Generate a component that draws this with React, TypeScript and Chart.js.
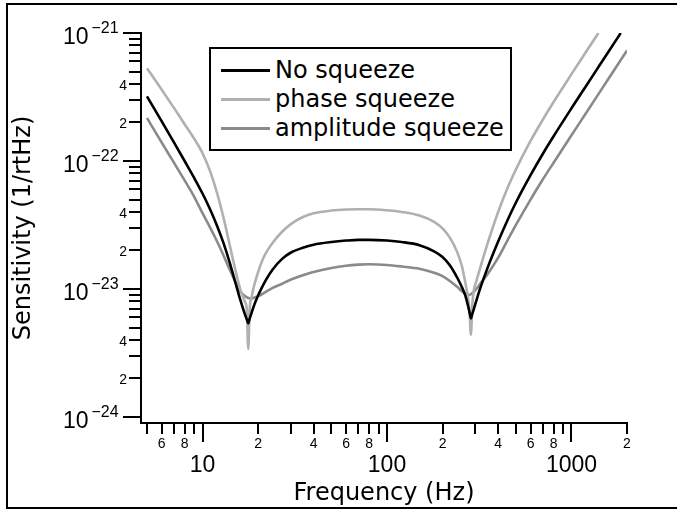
import React, { useEffect, useRef } from 'react';
import { Chart, registerables } from 'chart.js';

Chart.register(...registerables);

// ---- data ----
const frequencies = [
  5, 6, 7, 8, 9, 10, 11, 12, 13, 14, 15, 16, 17, 17.4, 17.7, 18, 18.5, 19,
  20, 21, 22, 24, 27, 30, 35, 40, 50, 60, 70, 80, 100, 120, 150, 180,
  200, 220, 240, 255, 265, 275, 280, 285, 290, 295, 305, 320, 350, 400, 450, 500,
  600, 700, 800, 1000, 1200, 1400, 1600, 1850, 2000,
];

const noSqueeze = [
  3.2e-22, 2.05e-22, 1.4e-22, 1.0e-22, 7.4e-23, 5.57e-23, 4.18e-23, 3.11e-23, 2.28e-23, 1.63e-23, 1.15e-23, 8.3e-24, 6.3e-24, 5.75e-24, 5.4e-24, 5.85e-24, 6.6e-24, 7.4e-24,
  8.9e-24, 1.03e-23, 1.17e-23, 1.42e-23, 1.72e-23, 1.92e-23, 2.1e-23, 2.22e-23, 2.33e-23, 2.39e-23, 2.42e-23, 2.42e-23, 2.39e-23, 2.33e-23, 2.2e-23, 1.97e-23,
  1.78e-23, 1.52e-23, 1.23e-23, 1.03e-23, 9.0e-24, 7.4e-24, 6.6e-24, 5.9e-24, 6.4e-24, 6.9e-24, 8.1e-24, 1.01e-23, 1.45e-23, 2.34e-23, 3.45e-23, 4.74e-23,
  7.75e-23, 1.14e-22, 1.56e-22, 2.58e-22, 3.86e-22, 5.42e-22, 7.27e-22, 1.0e-21, null,
];

const phaseSqueeze = [
  5.3e-22, 3.62e-22, 2.6e-22, 1.94e-22, 1.5e-22, 1.15e-22, 8.3e-23, 5.6e-23, 3.6e-23, 2.25e-23, 1.45e-23, 1.0e-23, 7.9e-24, 6.8e-24, 3.4e-24, 6.8e-24, 8.8e-24, 1.05e-23,
  1.35e-23, 1.65e-23, 1.9e-23, 2.3e-23, 2.8e-23, 3.2e-23, 3.65e-23, 3.9e-23, 4.1e-23, 4.18e-23, 4.2e-23, 4.2e-23, 4.12e-23, 4.0e-23, 3.75e-23, 3.35e-23,
  2.98e-23, 2.5e-23, 1.95e-23, 1.5e-23, 1.15e-23, 8.5e-24, 6.8e-24, 4.4e-24, 7.5e-24, 9.6e-24, 1.15e-23, 1.46e-23, 2.24e-23, 3.98e-23, 6.15e-23, 8.61e-23,
  1.435e-22, 2.11e-22, 2.89e-22, 4.77e-22, 7.13e-22, 1.0e-21, null, null, null,
];

const amplitudeSqueeze = [
  2.17e-22, 1.4e-22, 9.7e-23, 7.05e-23, 5.28e-23, 3.91e-23, 3.02e-23, 2.35e-23, 1.83e-23, 1.43e-23, 1.15e-23, 9.6e-24, 8.8e-24, 8.6e-24, 8.5e-24, 8.45e-24, 8.45e-24, 8.55e-24,
  8.8e-24, 9.1e-24, 9.5e-24, 1.02e-23, 1.1e-23, 1.18e-23, 1.28e-23, 1.36e-23, 1.46e-23, 1.52e-23, 1.55e-23, 1.56e-23, 1.54e-23, 1.5e-23, 1.44e-23, 1.34e-23,
  1.26e-23, 1.15e-23, 1.04e-23, 9.6e-24, 9.2e-24, 9.0e-24, 9.0e-24, 9.1e-24, 9.3e-24, 9.5e-24, 1.0e-23, 1.1e-23, 1.3e-23, 1.75e-23, 2.4e-23, 3.17e-23,
  5.0e-23, 7.2e-23, 9.7e-23, 1.59e-22, 2.37e-22, 3.33e-22, 4.47e-22, 6.15e-22, 7.3e-22,
];

const seriesLabels = ['No squeeze', 'phase squeeze', 'amplitude squeeze'];
const seriesColors = ['#000000', '#b0b0b0', '#8a8a8a'];
const seriesValues = [noSqueeze, phaseSqueeze, amplitudeSqueeze];

// ---- axes ----
const xMin = 4.64;
const xMax = 2000;
const yMin = 8.98e-25;
const yMax = 1e-21;

const xTicks = [
  5, 6, 7, 8, 9, 10, 20, 30, 40, 50, 60, 70, 80, 90, 100,
  200, 300, 400, 500, 600, 700, 800, 900, 1000, 2000,
];
const xTickLabels = [
  '', '6', '', '8', '', '', '2', '', '4', '', '6', '', '8', '', '',
  '2', '', '4', '', '6', '', '8', '', '', '2',
];
const xDecadeTicks = [10, 100, 1000];
const xDecadeLabels = ['10', '100', '1000'];

const yTicks = [
  1e-24, 2e-24, 3e-24, 4e-24, 5e-24, 6e-24, 7e-24, 8e-24, 9e-24,
  1e-23, 2e-23, 3e-23, 4e-23, 5e-23, 6e-23, 7e-23, 8e-23, 9e-23,
  1e-22, 2e-22, 3e-22, 4e-22, 5e-22, 6e-22, 7e-22, 8e-22, 9e-22,
  1e-21,
];
const yTickLabels = [
  '', '2', '', '4', '', '', '', '', '',
  '', '2', '', '4', '', '', '', '', '',
  '', '2', '', '4', '', '', '', '', '',
  '',
];
const yDecadeTicks = [1e-24, 1e-23, 1e-22, 1e-21];
const yDecadeLabels = ['10', '10', '10', '10'];
const yDecadeExponents = ['\u221224', '\u221223', '\u221222', '\u221221'];

const xAxisTitle = 'Frequency (Hz)';
const yAxisTitle = 'Sensitivity (1/rtHz)';

const NUM_FONT = "'Liberation Sans', Arial, sans-serif";
const TXT_FONT = "'DejaVu Sans', sans-serif";

// outer frame of the figure
const frame = {
  id: 'frame',
  beforeDraw(chart: any) {
    const ctx = chart.ctx;
    ctx.save();
    ctx.strokeStyle = '#000000';
    ctx.lineWidth = 2;
    ctx.strokeRect(7, 4, 720, 504);
    ctx.restore();
  },
};

// tick marks of both axes (longer at the decades) + superscript exponents
const axisDecor = {
  id: 'axisDecor',
  afterDraw(chart: any) {
    const ctx = chart.ctx;
    const xs = chart.scales['x'];
    const ys2 = chart.scales['y2'];
    const axisX = Math.round(xs.left);
    const axisY = Math.round(xs.top);
    ctx.save();
    ctx.setTransform(1, 0, 0, 1, 0, 0);
    ctx.globalAlpha = 1;
    ctx.globalCompositeOperation = 'source-over';
    ctx.fillStyle = '#000000';
    ctx.strokeStyle = '#000000';
    ctx.lineWidth = 2;
    ctx.setLineDash([]);
    xTicks.forEach((v) => {
      const px = Math.round(xs.getPixelForValue(v));
      const len = xDecadeTicks.indexOf(v) >= 0 ? 19 : 11;
      ctx.fillRect(px - 1, axisY, 2, len);
    });
    yTicks.forEach((v) => {
      const py = Math.round(ys2.getPixelForValue(v));
      const len = yDecadeTicks.indexOf(v) >= 0 ? 18 : 12;
      ctx.beginPath();
      ctx.moveTo(axisX + 1, py);
      ctx.lineTo(axisX - len, py);
      ctx.stroke();
    });
    ctx.font = `16px ${NUM_FONT}`;
    ctx.textAlign = 'left';
    ctx.textBaseline = 'alphabetic';
    yDecadeTicks.forEach((v, i) => {
      const py = ys2.getPixelForValue(v);
      ctx.fillText(yDecadeExponents[i], ys2.right - 22.5, py);
    });
    ctx.restore();
  },
};

const noEdgePaddingH = (height: number) => (s: any) => {
  s.height = height;
  s.paddingLeft = 0;
  s.paddingRight = 0;
};
const noEdgePaddingV = (width: number) => (s: any) => {
  s.width = width;
  s.paddingTop = 0;
  s.paddingBottom = 0;
};

export default function App() {
  const canvasRef = useRef<HTMLCanvasElement>(null);

  useEffect(() => {
    document.body.style.margin = '0';
    document.body.style.overflow = 'hidden';
    const canvas = canvasRef.current!;
    const datasets = seriesLabels.map((label, i) => ({
      label,
      data: frequencies.map((f, j) => ({ x: f, y: seriesValues[i][j] })),
      borderColor: seriesColors[i],
      backgroundColor: seriesColors[i],
      borderWidth: 2.6,
      pointRadius: 0,
      fill: false,
      spanGaps: false,
      cubicInterpolationMode: 'monotone',
      clip: 0,
      xAxisID: 'x',
      yAxisID: 'y',
    }));

    const chart = new Chart(canvas, {
      type: 'line',
      data: { datasets } as any,
      plugins: [frame, axisDecor],
      options: {
        animation: false,
        responsive: false,
        devicePixelRatio: 1,
        events: [],
        layout: { autoPadding: false, padding: { left: 0, top: 33, right: 50, bottom: 0 } },
        plugins: { legend: { display: false }, tooltip: { enabled: false } },
        scales: {
          x: {
            type: 'logarithmic',
            position: 'bottom',
            weight: 0,
            min: xMin,
            max: xMax,
            afterBuildTicks: (s: any) => { s.ticks = xTicks.map((v) => ({ value: v })); },
            afterFit: noEdgePaddingH(28),
            grid: { display: false, drawTicks: true, tickLength: 11 },
            border: { display: true, color: '#000000', width: 2 },
            ticks: {
              autoSkip: false, maxRotation: 0, minRotation: 0, padding: 2, color: '#000000',
              font: { family: NUM_FONT, size: 14 },
              callback: (_v: any, i: number) => xTickLabels[i] ?? '',
            },
          },
          x2: {
            type: 'logarithmic',
            position: 'bottom',
            weight: 1,
            min: xMin,
            max: xMax,
            afterBuildTicks: (s: any) => { s.ticks = xDecadeTicks.map((v) => ({ value: v })); },
            afterFit: noEdgePaddingH(60),
            grid: { display: false, drawTicks: false },
            border: { display: false },
            ticks: {
              autoSkip: false, maxRotation: 0, minRotation: 0, padding: 1, color: '#000000',
              font: { family: NUM_FONT, size: 23 },
              callback: (_v: any, i: number) => xDecadeLabels[i] ?? '',
            },
            title: {
              display: true, text: xAxisTitle, color: '#000000',
              font: { family: TXT_FONT, size: 24 },
              padding: { top: 2.5, bottom: 2.5 },
            },
          },
          y: {
            type: 'logarithmic',
            position: 'left',
            weight: 0,
            min: yMin,
            max: yMax,
            afterBuildTicks: (s: any) => { s.ticks = yTicks.map((v) => ({ value: v })); },
            afterFit: noEdgePaddingV(27),
            grid: { display: false, drawTicks: true, tickLength: 12 },
            border: { display: true, color: '#000000', width: 2 },
            ticks: {
              autoSkip: false, padding: 2, labelOffset: 2, color: '#000000',
              font: { family: NUM_FONT, size: 14 },
              callback: (_v: any, i: number) => yTickLabels[i] ?? '',
            },
          },
          y2: {
            type: 'logarithmic',
            position: 'left',
            weight: 1,
            min: yMin,
            max: yMax,
            afterBuildTicks: (s: any) => { s.ticks = yDecadeTicks.map((v) => ({ value: v })); },
            afterFit: noEdgePaddingV(114),
            grid: { display: false, drawTicks: false },
            border: { display: false },
            ticks: {
              autoSkip: false, padding: 25.5, labelOffset: 5, color: '#000000',
              font: { family: NUM_FONT, size: 23 },
              callback: (_v: any, i: number) => yDecadeLabels[i] ?? '',
            },
            title: {
              display: true, text: yAxisTitle, color: '#000000',
              font: { family: TXT_FONT, size: 24 },
              padding: { top: 9.6, bottom: 9.6 },
            },
          },
        },
      } as any,
    });
    return () => chart.destroy();
  }, []);

  return (
    <div style={{ position: 'relative', width: 677, height: 511, overflow: 'hidden', background: '#fff' }}>
      <canvas
        ref={canvasRef}
        width={677}
        height={511}
        style={{ position: 'absolute', left: 0, top: 0, width: 677, height: 511 }}
      />
      <div
        style={{
          position: 'absolute', left: 209, top: 47, width: 303, height: 104,
          border: '2px solid #000', boxSizing: 'border-box', background: '#fff',
          padding: '6.5px 0', fontFamily: TXT_FONT, fontSize: 24, color: '#000',
        }}
      >
        {seriesLabels.map((label, i) => (
          <div key={label} style={{ display: 'flex', alignItems: 'center', height: 29 }}>
            <span
              style={{
                display: 'inline-block', width: 49, height: 3, background: seriesColors[i],
                marginLeft: 10, marginRight: 5, flex: 'none',
              }}
            />
            <span style={{ lineHeight: '29px', whiteSpace: 'nowrap' }}>{label}</span>
          </div>
        ))}
      </div>
    </div>
  );
}
